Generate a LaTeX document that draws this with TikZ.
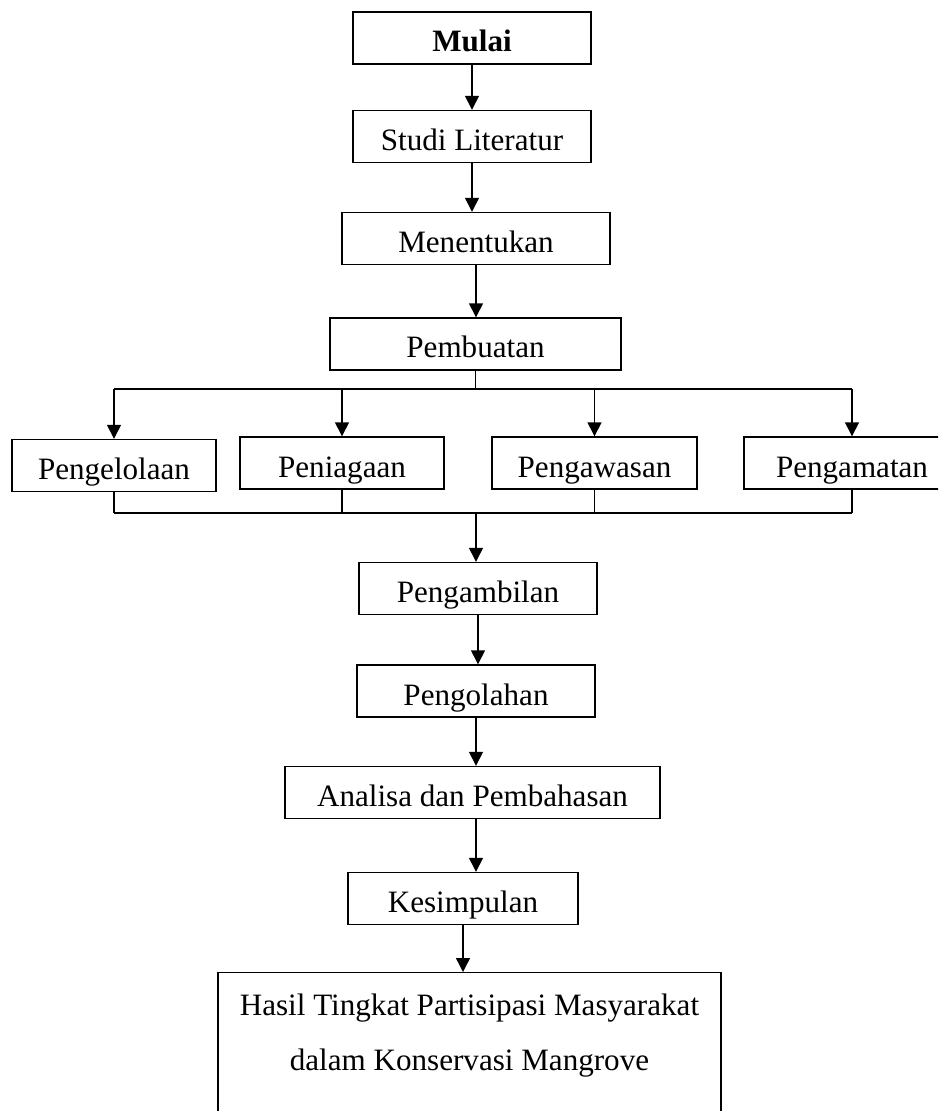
\documentclass[tikz,border=0pt]{standalone}
\usepackage{fontspec}
\setmainfont{Liberation Serif}
\usetikzlibrary{arrows.meta,positioning}
\tikzset{
  kotak/.style={draw,line width=0.8pt,inner sep=0pt,text height=0.8cm,text depth=0.24cm,font=\fontsize{17.7}{21}\selectfont},
  panah/.style={line width=0.8pt,-{Triangle[length=0.28cm,width=0.28cm]}},
  garis/.style={line width=0.8pt}
}
\begin{document}
\begin{tikzpicture}[x=0.02cm,y=-0.02cm]
    \useasboundingbox (0,0) rectangle (938,1111);
    \clip (0,0) rectangle (938,1111);
    \node[kotak,minimum width=4.76cm] (mulai) at (472,38) {\textbf{Mulai}};
    \node[kotak,minimum width=4.76cm] (studi) at (472,136.5) {Studi Literatur};
    \node[kotak,minimum width=5.36cm] (menentukan) at (476,238.5) {Menentukan};
    \node[kotak,minimum width=5.82cm] (pembuatan) at (475.5,344) {Pembuatan};
    \node[kotak,minimum width=4.08cm] (pengelolaan) at (114,465.5) {Pengelolaan};
    \node[kotak,minimum width=4.08cm] (peniagaan) at (342,463) {Peniagaan};
    \node[kotak,minimum width=4.1cm] (pengawasan) at (594.5,463) {Pengawasan};
    \node[kotak,minimum width=4.32cm] (pengamatan) at (852,463) {Pengamatan};
    \node[kotak,minimum width=4.76cm] (pengambilan) at (478,588.5) {Pengambilan};
    \node[kotak,minimum width=4.76cm] (pengolahan) at (476,691) {Pengolahan};
    \node[kotak,minimum width=7.5cm] (analisa) at (472.5,792.5) {Analisa dan Pembahasan};
    \node[kotak,minimum width=4.6cm] (kesimpulan) at (463,898.5) {Kesimpulan};
    \node[draw,line width=0.8pt,minimum width=10.06cm,minimum height=3.6cm,anchor=north] (hasil) at (469.5,972) {};
    \node[align=center,font=\fontsize{17.7}{31.3}\selectfont] (hasilteks) at (469.5,1036) {Hasil Tingkat Partisipasi Masyarakat\\dalam Konservasi Mangrove};
    \coordinate (bagi) at (475,389);
    \coordinate (gabung) at (476,513);
    \draw[panah] (mulai.south) -- (studi.north);
    \draw[panah] (studi.south) -- (menentukan.north -| studi.south);
    \draw[panah] (menentukan.south) -- (pembuatan.north -| menentukan.south);
    \draw[garis] (pembuatan.south) -- (pembuatan.south |- bagi);
    \draw[garis] (pengelolaan.north |- bagi) -- (pengamatan.north |- bagi);
    \foreach \n in {pengelolaan,peniagaan,pengawasan,pengamatan}
      \draw[panah] (\n.north |- bagi) -- (\n.north);
    \foreach \n in {pengelolaan,peniagaan,pengawasan,pengamatan}
      \draw[garis] (\n.south) -- (\n.south |- gabung);
    \draw[garis] (pengelolaan.south |- gabung) -- (pengamatan.south |- gabung);
    \draw[panah] (gabung) -- (gabung |- pengambilan.north);
    \draw[panah] (pengambilan.south) -- (pengolahan.north -| pengambilan.south);
    \draw[panah] (pengolahan.south) -- (analisa.north -| pengolahan.south);
    \draw[panah] (analisa.south -| pengolahan.south) -- (kesimpulan.north -| pengolahan.south);
    \draw[panah] (kesimpulan.south) -- (hasil.north -| kesimpulan.south);
\end{tikzpicture}
\end{document}
